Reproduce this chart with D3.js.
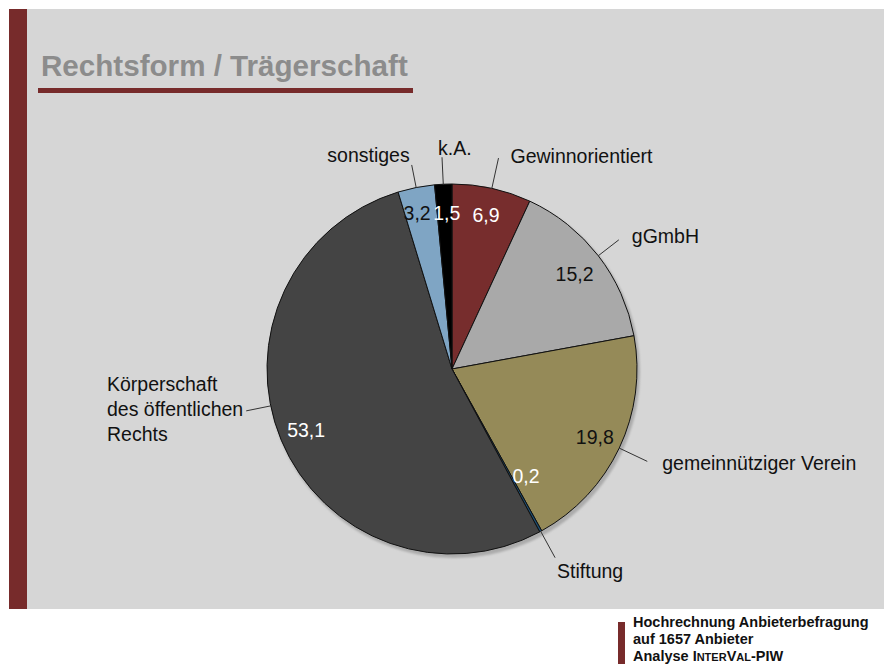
<!DOCTYPE html>
<html>
<head>
<meta charset="utf-8">
<script src="https://cdn.jsdelivr.net/npm/d3@7"></script>
<style>
  html, body { margin: 0; padding: 0; background: #fff; }
  svg { display: block; font-family: "Liberation Sans", Arial, sans-serif; }
</style>
</head>
<body>
<script>
'use strict';

// data, clockwise from 12 o'clock
const categories = ["Gewinnorientiert", "gGmbH", "gemeinnütziger Verein", "Stiftung",
                    "Körperschaft des öffentlichen Rechts", "sonstiges", "k.A."];
const shares = [6.9, 15.2, 19.8, 0.2, 53.1, 3.2, 1.5];
const shareLabels = ["6,9", "15,2", "19,8", "0,2", "53,1", "3,2", "1,5"];
const sliceColors = ["#772d2d", "#a9a9a9", "#958a58", "#1d4f73", "#444444", "#7fa5c4", "#000000"];
const footerLines = ["Hochrechnung Anbieterbefragung", "auf 1657 Anbieter"];

const width = 884, height = 669;
const cx = 452, cy = 369, radius = 185;
const labelSize = 19.5;

// where the outside labels sit relative to the end of their leader line
const outerLayout = {
  "Gewinnorientiert": { r1: 216, dx: 12, dy: 5, anchor: "start" },
  "gGmbH": { r1: 211, dx: 13, dy: 3, anchor: "start" },
  "gemeinnütziger Verein": { r1: 216, dx: 15, dy: 9, anchor: "start" },
  "Stiftung": { r1: 215, dx: 2, dy: 20, anchor: "start" },
  "Körperschaft des öffentlichen Rechts": { r1: 210, dx: -3, dy: 5, anchor: "end", block: true, angle: 258.5,
    lines: ["Körperschaft", "des öffentlichen", "Rechts"] },
  "sonstiges": { r1: 208, dx: -2, dy: -3, anchor: "end" },
  "k.A.": { r1: 212, dx: -4, dy: -2, anchor: "start" },
};
// value labels inside the slices (small slices get nudged apart)
const innerLayout = {
  "gGmbH": { r: 155 },
  "Stiftung": { r: 130, angle: 145.3 },
  "sonstiges": { r: 160, angle: 347.4 },
  "k.A.": { r: 156, angle: 358.1 },
};
const whiteText = new Set(["Gewinnorientiert", "Stiftung", "Körperschaft des öffentlichen Rechts", "k.A."]);

const svg = d3.select("body").append("svg")
  .attr("width", width)
  .attr("height", height);

// slide background
svg.append("rect")
  .attr("x", 9).attr("y", 9)
  .attr("width", width - 9).attr("height", 600)
  .attr("fill", "#d6d6d6");
svg.append("rect")
  .attr("x", 9).attr("y", 9)
  .attr("width", 18).attr("height", 600)
  .attr("fill", "#772b2b");

// title
svg.append("text")
  .attr("x", 41).attr("y", 76)
  .attr("font-size", 29.6)
  .attr("font-weight", "bold")
  .attr("fill", "#8c8c8c")
  .text("Rechtsform / Trägerschaft");
svg.append("rect")
  .attr("x", 38).attr("y", 88)
  .attr("width", 375).attr("height", 5)
  .attr("fill", "#772b2b");

// pie
const pie = d3.pie().sort(null).value((d) => d.value);
const arcs = pie(categories.map((c, i) => ({ name: c, value: shares[i], label: shareLabels[i], color: sliceColors[i] })));
const arc = d3.arc().innerRadius(0).outerRadius(radius);

const toRad = (deg) => deg * Math.PI / 180;
const midAngle = (a) => (a.startAngle + a.endAngle) / 2;
const polar = (ang, r) => [cx + r * Math.sin(ang), cy - r * Math.cos(ang)];

const defs = svg.append("defs");
defs.append("filter").attr("id", "soft")
  .append("feGaussianBlur").attr("stdDeviation", 1.2);

svg.append("circle")
  .attr("cx", cx + 2).attr("cy", cy + 3).attr("r", radius + 1)
  .attr("fill", "#ababab")
  .attr("filter", "url(#soft)");

const g = svg.append("g").attr("transform", `translate(${cx},${cy})`);
g.selectAll("path.slice")
  .data(arcs)
  .enter()
  .append("path")
    .attr("class", "slice")
    .attr("d", arc)
    .attr("fill", (d) => d.data.color)
    .attr("stroke", "#111")
    .attr("stroke-width", 1)
    .attr("stroke-linejoin", "round");

// value labels
svg.selectAll("text.value")
  .data(arcs)
  .enter()
  .append("text")
    .attr("class", "value")
    .each(function(d) {
      const o = innerLayout[d.data.name] || {};
      const ang = o.angle !== undefined ? toRad(o.angle) : midAngle(d);
      const [x, y] = polar(ang, o.r || 158);
      d3.select(this).attr("x", x).attr("y", y);
    })
    .attr("dy", "0.36em")
    .attr("text-anchor", "middle")
    .attr("font-size", labelSize)
    .attr("fill", (d) => whiteText.has(d.data.name) ? "#ffffff" : "#111111")
    .text((d) => d.data.label);

// leader lines and category labels
const outer = svg.append("g");
arcs.forEach((d) => {
  const o = outerLayout[d.data.name];
  const ang = o.angle !== undefined ? toRad(o.angle) : midAngle(d);
  const [x0, y0] = polar(ang, radius);
  const [x1, y1] = polar(ang, o.r1);
  outer.append("line")
    .attr("x1", x0).attr("y1", y0)
    .attr("x2", x1).attr("y2", y1)
    .attr("stroke", "#333")
    .attr("stroke-width", 1);
  const t = outer.append("text")
    .attr("text-anchor", o.anchor)
    .attr("font-size", labelSize)
    .attr("fill", "#111");
  const lines = o.lines || [d.data.name];
  const mid = (lines.length - 1) / 2;
  const spans = lines.map((line, i) => t.append("tspan")
      .attr("x", x1 + o.dx)
      .attr("y", y1 + o.dy + (i - mid) * 25)
      .text(line));
  if (o.block) {
    // multi-line label: left aligned block whose right edge meets the leader
    const maxW = d3.max(spans, (s) => s.node().getComputedTextLength());
    t.attr("text-anchor", "start");
    spans.forEach((s) => s.attr("x", x1 + o.dx - maxW));
  }
});

// footer note
svg.append("rect")
  .attr("x", 618).attr("y", 622)
  .attr("width", 7).attr("height", 42)
  .attr("fill", "#772b2b");
const foot = svg.append("text")
  .attr("x", 633)
  .attr("font-size", 14.5)
  .attr("font-weight", "bold")
  .attr("fill", "#111");
footerLines.forEach((line, i) => {
  foot.append("tspan").attr("x", 633).attr("y", 627 + i * 17).text(line);
});
const last = foot.append("tspan").attr("x", 633).attr("y", 661);
last.append("tspan").text("Analyse I");
last.append("tspan").attr("font-size", 11).text("NTER");
last.append("tspan").text("V");
last.append("tspan").attr("font-size", 11).text("AL");
last.append("tspan").text("-PIW");
</script>
</body>
</html>
